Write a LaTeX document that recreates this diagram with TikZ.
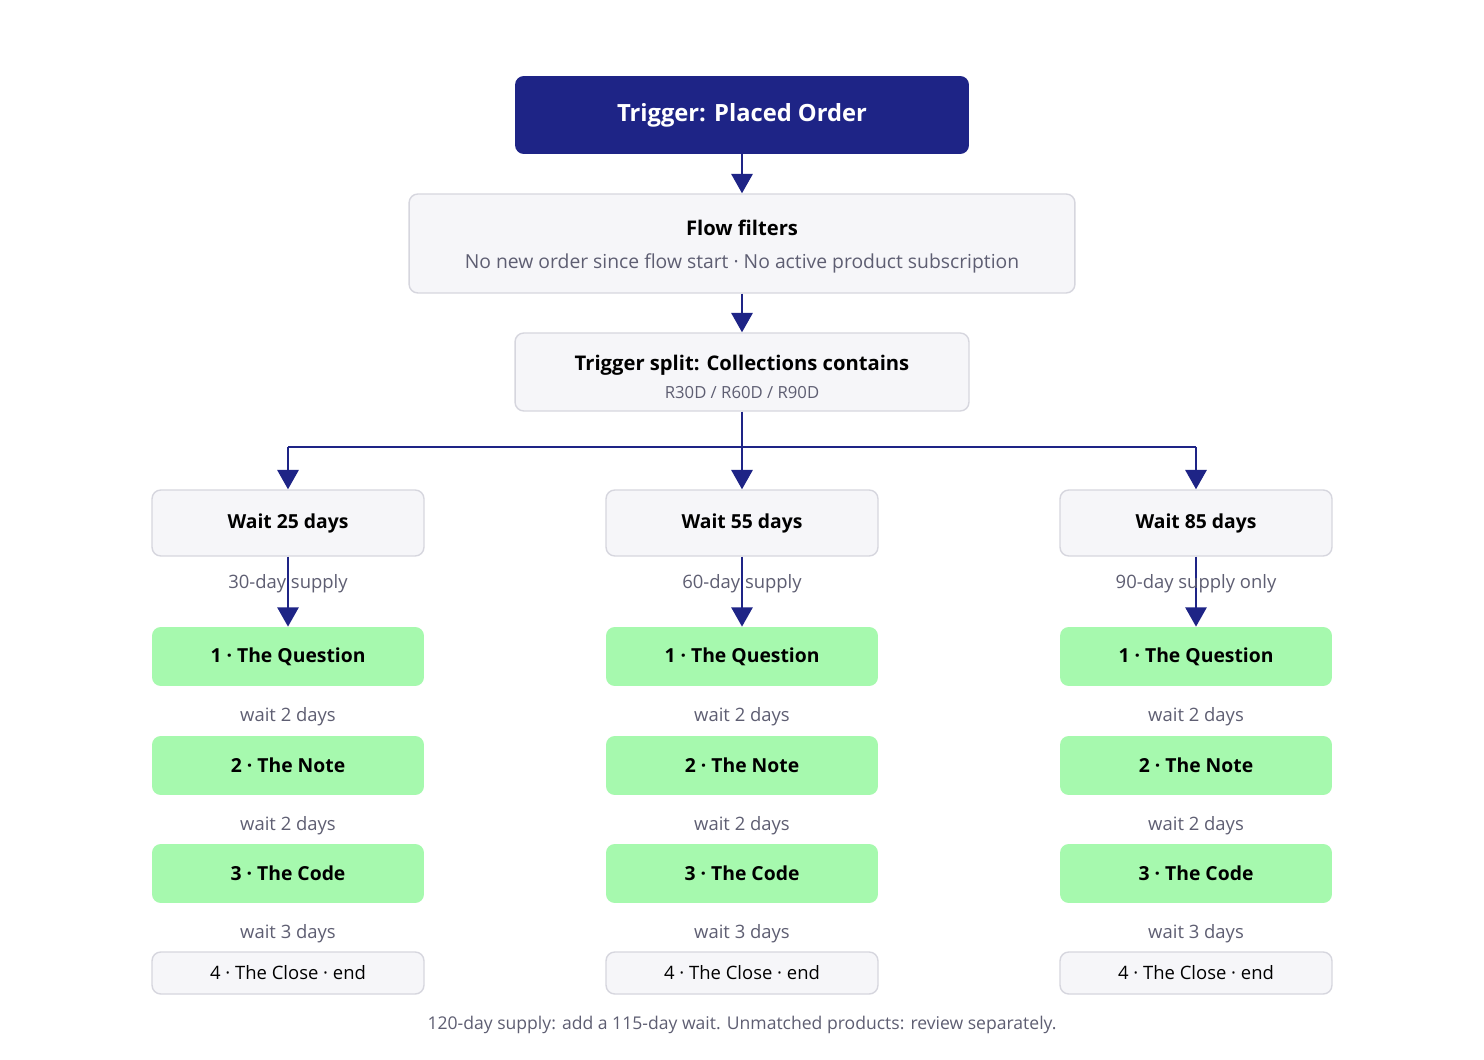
\documentclass[tikz,border=0pt]{standalone}
\usepackage{fontspec}
\setmainfont{Open Sans}
\usetikzlibrary{positioning,arrows.meta}

\definecolor{navy}{HTML}{1E2486}
\definecolor{paleg}{HTML}{A6F9AE}
\definecolor{boxbg}{HTML}{F6F6F9}
\definecolor{boxln}{HTML}{D6D6DE}
\definecolor{txtg}{HTML}{5E5E72}

\tikzset{
  flow/.style={draw=boxln, fill=boxbg, rounded corners=5pt, line width=0.8pt},
  mail/.style={fill=paleg, rounded corners=5pt, minimum width=5.44cm, minimum height=1.18cm, font=\fontsize{11}{13}\selectfont\bfseries},
  waitbox/.style={flow, minimum width=5.44cm, minimum height=1.32cm, font=\fontsize{11}{13}\selectfont\bfseries},
  endbox/.style={flow, minimum width=5.44cm, minimum height=0.84cm, font=\fontsize{10.5}{13}\selectfont},
  note/.style={text=txtg, font=\fontsize{10.5}{13}\selectfont},
  link/.style={navy, line width=1.5pt, -{Triangle[width=12pt,length=11pt]}}
}

\begin{document}
\begin{tikzpicture}[x=0.02cm,y=-0.02cm]
\useasboundingbox[fill=white] (0,0) rectangle (1484,1060);

\node[fill=navy, rounded corners=5pt, minimum width=9.08cm, minimum height=1.56cm,
  text=white, font=\fontsize{13.5}{15}\selectfont\bfseries] (trig) at (742,115) {Trigger: Placed Order};

\node[flow, minimum width=13.32cm, minimum height=1.98cm] (filt) at (742,243.5) {};
\node[font=\fontsize{11.5}{13}\selectfont\bfseries] (filtT) at (742,228) {Flow filters};
\node[note, font=\fontsize{11}{13}\selectfont] (filtS) at (742,263) {No new order since flow start · No active product subscription};

\node[flow, minimum width=9.08cm, minimum height=1.56cm] (split) at (742,372) {};
\node[font=\fontsize{11.5}{13}\selectfont\bfseries] (splitT) at (742,365) {Trigger split: Collections contains};
\node[note, font=\fontsize{9.5}{11}\selectfont] (splitS) at (742,393) {R30D / R60D / R90D};

\draw[link] (trig) -- (filt);
\draw[link] (filt) -- (split);

\coordinate (hub) at (742,447);
\draw[navy, line width=1.5pt] (split.south) -- (hub);

% three branches
\foreach \x/\d/\s/\i in {288/25/30-day supply/a, 742/55/60-day supply/b, 1196/85/90-day supply only/c} {
  \node[waitbox] (w\i) at (\x,523) {\raisebox{-2pt}{Wait \d\ days}};
  \node[mail] (q\i) at (\x,656.5) {\raisebox{-2pt}{1 · The Question}};
  \node[mail] (n\i) at (\x,765.5) {\raisebox{-2pt}{2 · The Note}};
  \node[mail] (k\i) at (\x,873.5) {\raisebox{-2pt}{3 · The Code}};
  \node[endbox] (e\i) at (\x,973) {\raisebox{-2pt}{4 · The Close · end}};
  \coordinate (t\i) at (\x,447);
  \draw[navy, line width=1.5pt] (hub) -- (t\i);
  \draw[link] (t\i) -- (w\i);
  \draw[link] (w\i) -- (q\i);
  \node[note] (s\i) at (\x,584) {\s};
  \node[note] (g1\i) at (\x,717) {wait 2 days};
  \node[note] (g2\i) at (\x,826) {wait 2 days};
  \node[note] (g3\i) at (\x,934) {wait 3 days};
}

\node[note, font=\fontsize{10}{12}\selectfont] (foot) at (742,1025) {120-day supply: add a 115-day wait. Unmatched products: review separately.};
\end{tikzpicture}
\end{document}
